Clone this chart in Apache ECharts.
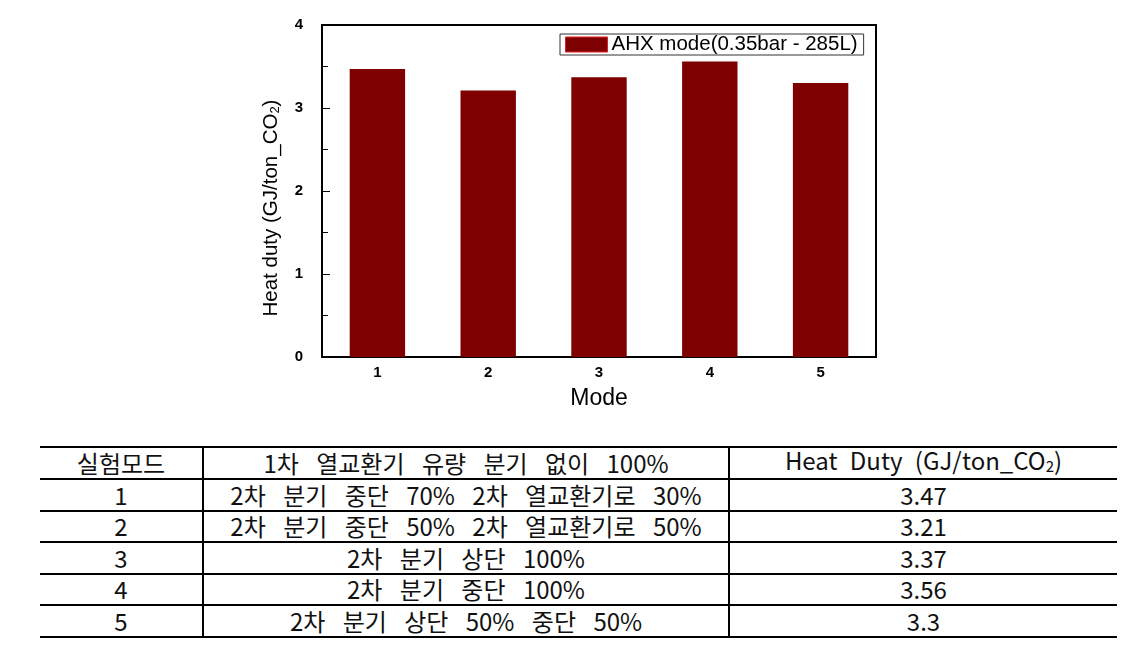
<!DOCTYPE html>
<html>
<head>
<meta charset="utf-8">
<script src="https://cdn.jsdelivr.net/npm/echarts@6/dist/echarts.min.js"></script>
<style>
    body { margin: 0; background: #fff; width: 1135px; height: 651px; position: relative; overflow: hidden; }
    #chart { position: absolute; left: 0; top: 0; width: 1135px; height: 430px; }
    #tbl { position: absolute; left: 40px; top: 446px; border-collapse: collapse;
        font-family: "Noto Sans CJK KR", sans-serif; font-size: 24px; color: #111; }
    #tbl td { border-top: 2px solid #000; border-bottom: 2px solid #000; height: 29.5px; padding: 0;
        text-align: center; line-height: 24px; word-spacing: 12px; white-space: nowrap; }
    #tbl td + td { border-left: 2px solid #000; }
    #tbl td.num { word-spacing: 7px; }
    sub { font-size: 15px; vertical-align: -2px; }
</style>
</head>
<body>
<div id="chart"></div>
<table id="tbl"></table>
<script>
(function() {

    const modes = ['1', '2', '3', '4', '5'];
    const heatDuty = [3.47, 3.21, 3.37, 3.56, 3.3];
    const descriptions = [
        '2차 분기 중단 70% 2차 열교환기로 30%',
        '2차 분기 중단 50% 2차 열교환기로 50%',
        '2차 분기 상단 100%',
        '2차 분기 중단 100%',
        '2차 분기 상단 50% 중단 50%'
    ];
    const tableHeader = ['실험모드', '1차 열교환기 유량 분기 없이 100%', 'Heat Duty (GJ/ton_CO<sub>2</sub>)'];
    const seriesName = 'AHX mode(0.35bar - 285L)';

    const chart = echarts.init(document.getElementById('chart'));

    const axisFont = { fontFamily: 'Liberation Sans, Arial', fontWeight: 'bold', fontSize: 15, color: '#000' };

    let option = {
        animation: false,
        grid: {
            show: true,
            left: 322,
            right: 259,
            top: 25,
            bottom: 73,
            borderColor: '#000',
            borderWidth: 2
        },
        legend: {
            left: 560,
            top: 34,
            orient: 'horizontal',
            borderColor: '#333',
            borderWidth: 1,
            padding: [0, 6, 0, 5],
            itemWidth: 42,
            itemHeight: 15,
            icon: 'rect',
            itemStyle: { borderColor: '#e02020', borderWidth: 1 },
            textStyle: { fontFamily: 'Liberation Sans, Arial', fontSize: 20.5, color: '#000', padding: [0, 0, 0, -1] },
            data: [seriesName]
        },
        xAxis: [{
            type: 'category',
            data: modes,
            name: 'Mode',
            nameLocation: 'middle',
            nameGap: 30,
            nameTextStyle: { fontFamily: 'Liberation Sans, Arial', fontSize: 23, color: '#000' },
            axisLine: { lineStyle: { color: '#000', width: 2 } },
            axisTick: { inside: true, length: 3, lineStyle: { color: '#000', width: 1 } },
            axisLabel: Object.assign({ margin: 8 }, axisFont),
            splitLine: { show: false }
        }, {
            type: 'category',
            data: modes,
            position: 'bottom',
            axisLine: { show: false },
            axisTick: { inside: true, alignWithLabel: true, length: 6, lineStyle: { color: '#000', width: 1 } },
            axisLabel: { show: false },
            splitLine: { show: false }
        }],
        yAxis: {
            type: 'value',
            min: 0,
            max: 4,
            interval: 1,
            name: 'Heat duty (GJ/ton_CO{sub|2})',
            nameLocation: 'middle',
            nameRotate: 90,
            nameGap: 40,
            nameTextStyle: {
                fontFamily: 'Liberation Sans, Arial', fontSize: 20.5, color: '#000',
                padding: [0, 34, 0, 0],
                rich: { sub: { fontFamily: 'Liberation Sans, Arial', fontSize: 13, color: '#000', verticalAlign: 'bottom', padding: [9, 0, 0, 0] } }
            },
            axisLine: { show: true, lineStyle: { color: '#000', width: 2 } },
            axisTick: { show: true, inside: true, length: 8, lineStyle: { color: '#000', width: 1 } },
            minorTick: { show: true, splitNumber: 2, length: 6, lineStyle: { color: '#000', width: 1 } },
            axisLabel: Object.assign({ margin: 19 }, axisFont),
            splitLine: { show: false }
        },
        series: [{
            name: seriesName,
            type: 'bar',
            xAxisIndex: 0,
            barWidth: '50%',
            data: heatDuty,
            itemStyle: { color: '#7f0000' }
        }]
    };

    chart.setOption(option);

    // table under the chart
    const tbl = document.getElementById('tbl');
    const colWidths = [162, 524, 387];
    let html = '<tr>' + tableHeader.map((h, i) => '<td' + (i === 2 ? ' class="num"' : '') + ' style="width:' + colWidths[i] + 'px">' + h + '</td>').join('') + '</tr>';
    modes.forEach((m, i) => {
        html += '<tr><td>' + m + '</td><td>' + descriptions[i] + '</td><td class="num">' + heatDuty[i] + '</td></tr>';
    });
    tbl.innerHTML = html;
})();
</script>
</body>
</html>
